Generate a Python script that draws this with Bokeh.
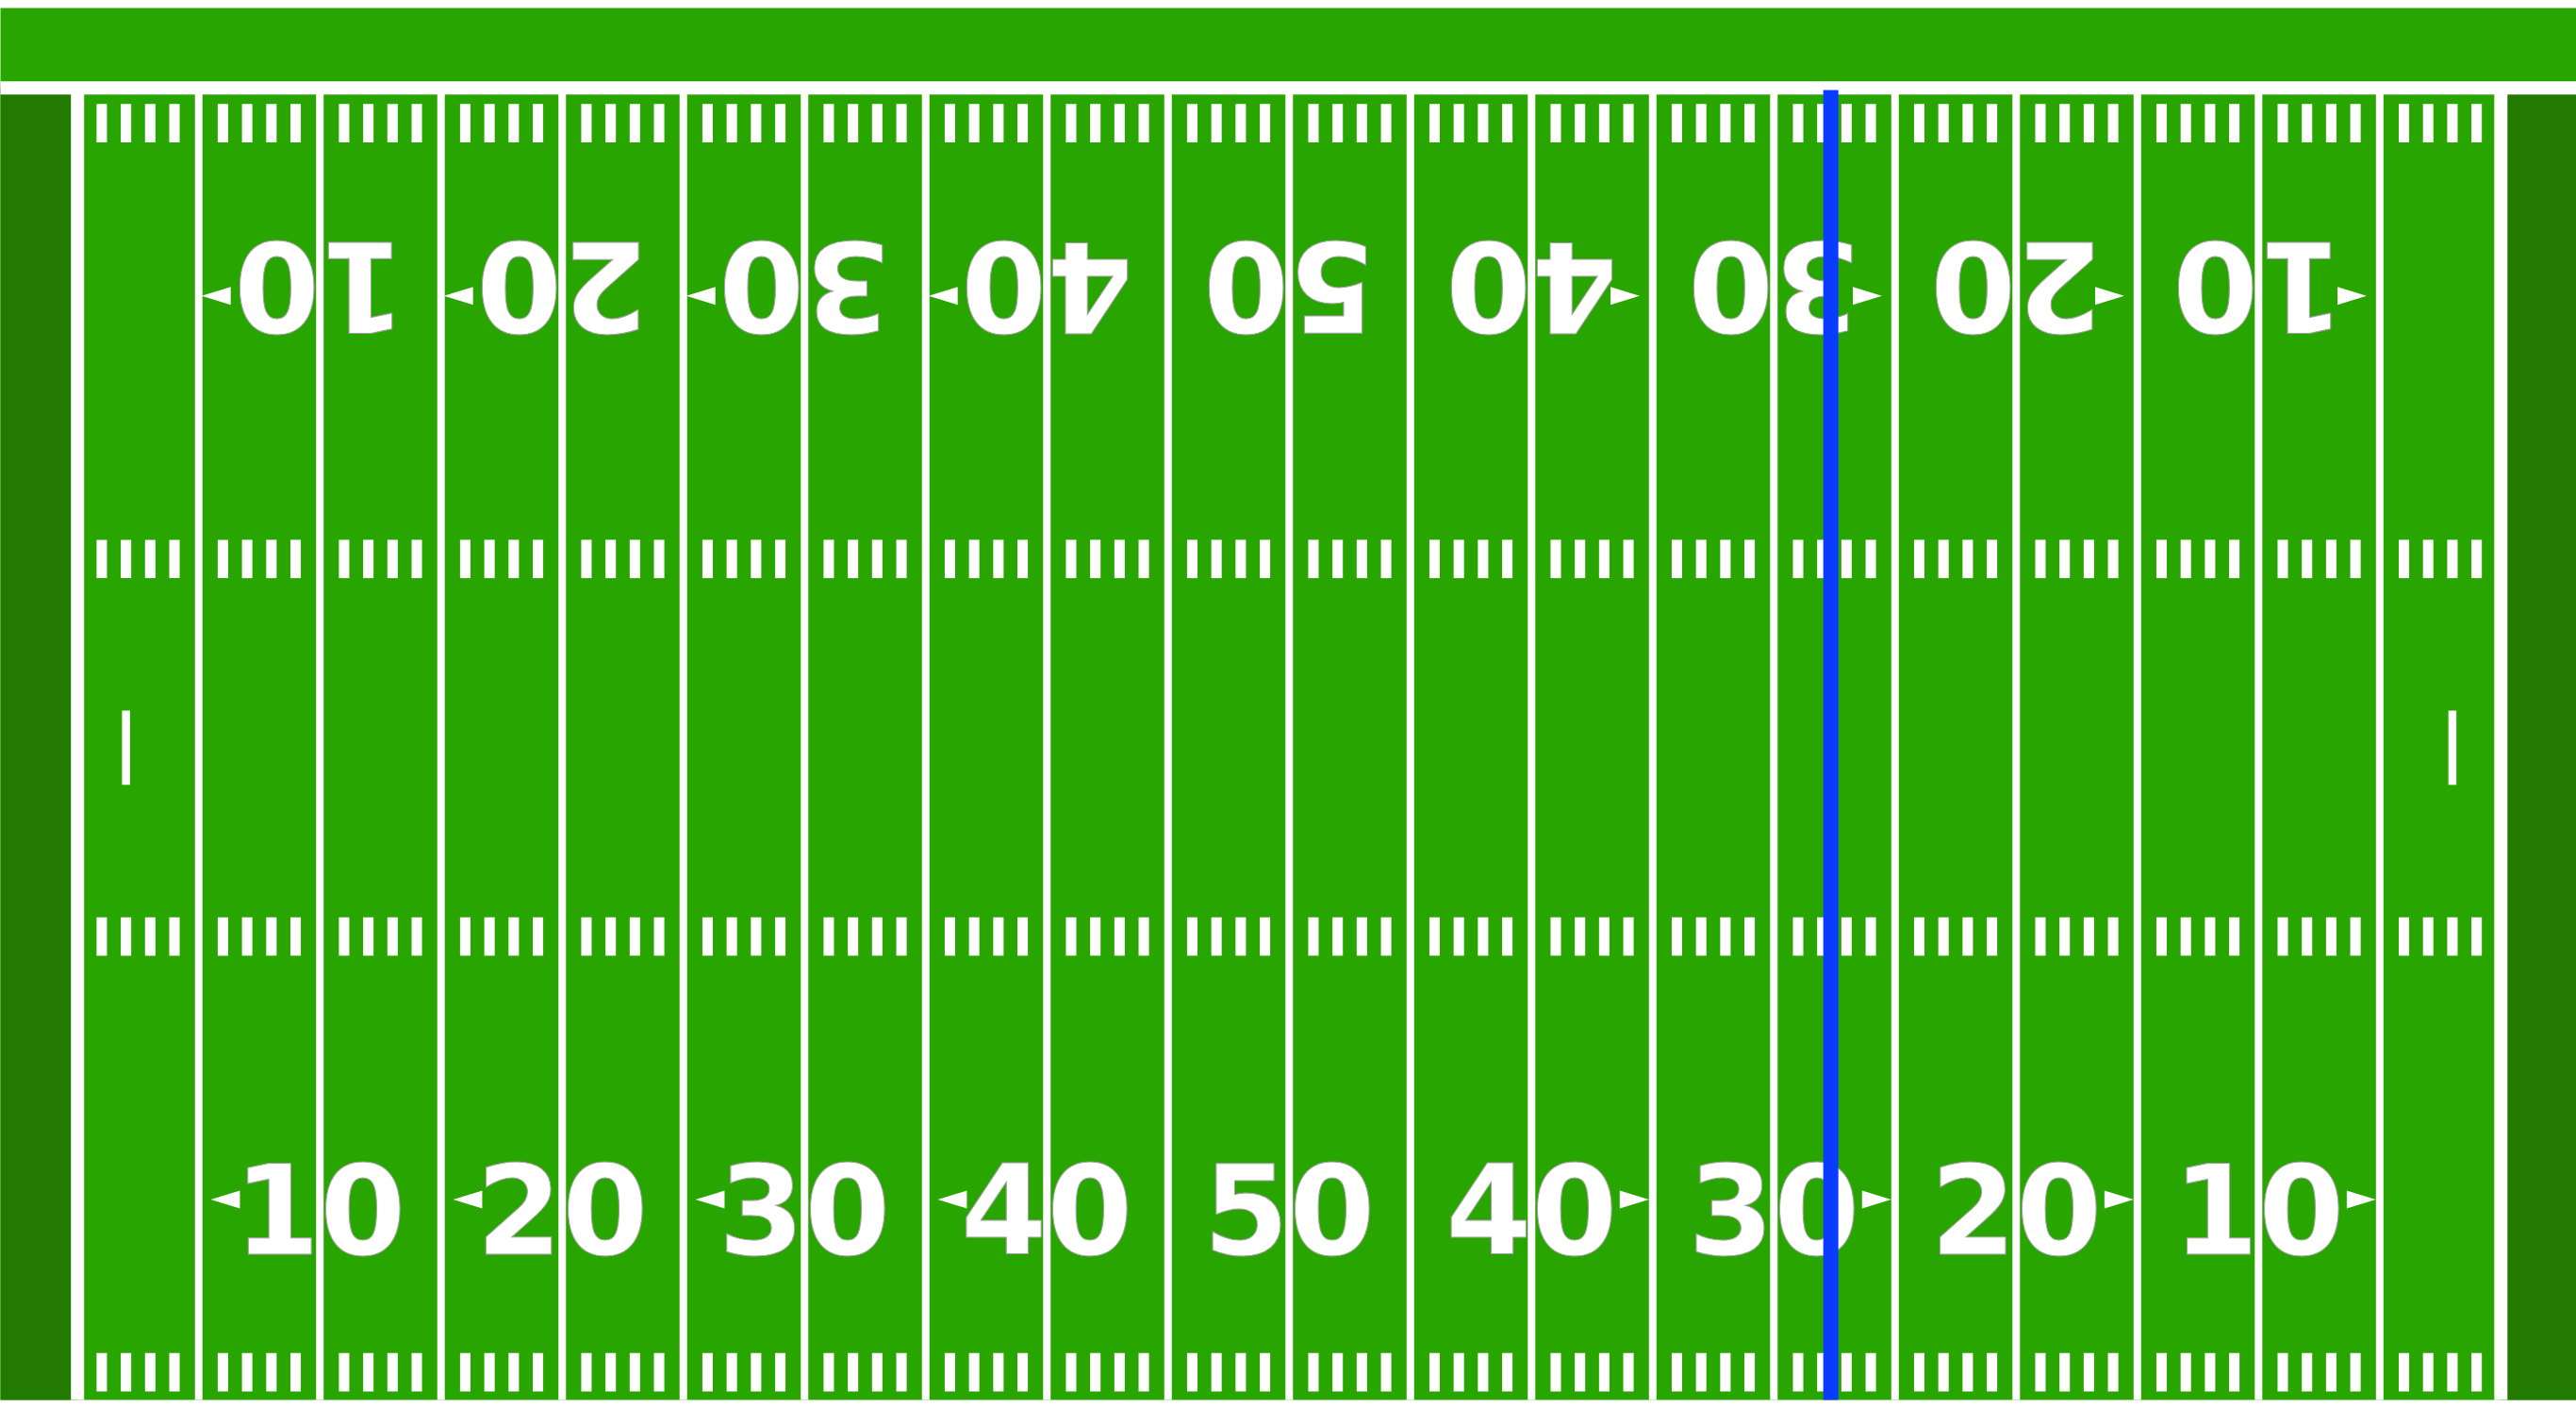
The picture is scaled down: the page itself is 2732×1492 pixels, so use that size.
import math
from bokeh.plotting import figure
from bokeh.models import ColumnDataSource, Text
from bokeh.core.properties import value
from bokeh.embed import file_html
from bokeh.resources import INLINE

# ---------------- data ----------------
FIELD_LEN = 120.0
FIELD_WID = 53.3
end_zone_x0 = [0, 110]
end_zone_x1 = [10, 120]
goal_lines = [10, 110]
yard_lines = [15, 20, 25, 30, 35, 40, 45, 50, 55, 60, 65, 70, 75, 80, 85, 90, 95, 100, 105]
number_x = [20, 30, 40, 50, 60, 70, 80, 90, 100]
number_labels = ["10", "20", "30", "40", "50", "40", "30", "20", "10"]
arrow_dir = [-1, -1, -1, -1, 0, 1, 1, 1, 1]
hash_x = [x for x in range(11, 110) if x % 5 != 0]
hash_rows = [(0.65, 2.2), (18.25, 19.8), (33.5, 35.05), (51.1, 52.65)]
pat_x = [12, 108]
pat_y = (25.15, 28.15)
line_of_scrimmage = 82.35

# ---------------- style ----------------
GRASS = "#29a500"
ENDZONE = "#227b00"
LOS_BLUE = "#0a3cff"
BOTTOM_NUM_Y = 8.05
TOP_NUM_Y = 45.22
BOTTOM_ARROW_Y = 8.4
TOP_ARROW_Y = 44.9

p = figure(width=2732, height=1492, x_range=(6.82, 113.12), y_range=(0.305, 56.53),
           x_axis_type=None, y_axis_type=None, toolbar_location=None,
           output_backend="svg", min_border=0, min_border_top=8, min_border_bottom=8)
p.grid.visible = False
p.outline_line_color = None
p.background_fill_color = GRASS
p.border_fill_color = "white"

# end zones
p.quad(left=end_zone_x0, right=end_zone_x1, bottom=[0, 0], top=[FIELD_WID, FIELD_WID],
       fill_color=ENDZONE, line_color=None)

# 5-yard lines
p.segment(x0=yard_lines, y0=[0] * len(yard_lines), x1=yard_lines, y1=[FIELD_WID] * len(yard_lines),
          line_color="white", line_width=8, line_cap="butt")

# goal lines
p.segment(x0=goal_lines, y0=[0, 0], x1=goal_lines, y1=[FIELD_WID, FIELD_WID],
          line_color="white", line_width=14, line_cap="butt")

# sidelines
p.segment(x0=[-10, -10], y0=[FIELD_WID, 0], x1=[FIELD_LEN + 10, FIELD_LEN + 10], y1=[FIELD_WID, 0],
          line_color="white", line_width=14, line_cap="butt")

# hash marks
hx_l, hx_r, hy_b, hy_t = [], [], [], []
for (b, t) in hash_rows:
    for x in hash_x:
        hx_l.append(x - 0.215)
        hx_r.append(x + 0.215)
        hy_b.append(b)
        hy_t.append(t)
p.quad(left=hx_l, right=hx_r, bottom=hy_b, top=hy_t, fill_color="white", line_color=None)

# PAT marks
p.quad(left=[x - 0.165 for x in pat_x], right=[x + 0.165 for x in pat_x],
       bottom=[pat_y[0]] * 2, top=[pat_y[1]] * 2, fill_color="white", line_color=None)

# numbers
extra = {}
if "text_outline_color" in Text.properties():
    extra["text_outline_color"] = "#a0a0a0"

src_bottom = ColumnDataSource(dict(x=number_x, y=[BOTTOM_NUM_Y] * len(number_x), t=number_labels))
src_top = ColumnDataSource(dict(x=number_x, y=[TOP_NUM_Y] * len(number_x), t=number_labels))
p.text(x="x", y="y", text="t", source=src_bottom, text_font=value("DejaVu Sans"),
       text_font_style="bold", text_font_size="131px", text_color="white",
       text_align="center", text_baseline="alphabetic", **extra)
p.text(x="x", y="y", text="t", source=src_top, text_font=value("DejaVu Sans"),
       text_font_style="bold", text_font_size="131px", text_color="white",
       text_align="center", text_baseline="alphabetic", angle=math.pi, **extra)

# direction arrows
axs, ays = [], []
for n, d in zip(number_x, arrow_dir):
    if d == 0:
        continue
    for ay, shift in ((BOTTOM_ARROW_Y, 0.17), (TOP_ARROW_Y, -0.21)):
        mid = n + d * 4.07 + shift
        tip = mid + d * 0.6
        base = mid - d * 0.6
        axs.append([base, base, tip])
        ays.append([ay - 0.36, ay + 0.36, ay])
p.patches(xs=axs, ys=ays, fill_color="white", line_color=None)

# line of scrimmage
p.segment(x0=[line_of_scrimmage], y0=[-1], x1=[line_of_scrimmage], y1=[53.22],
          line_color=LOS_BLUE, line_width=16, line_cap="butt")

open("out.html", "w").write(file_html(p, INLINE))
